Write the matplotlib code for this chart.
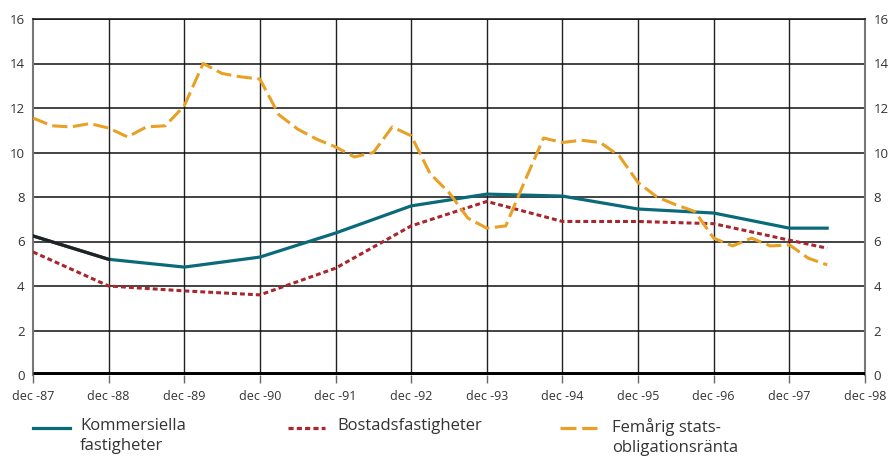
import matplotlib
matplotlib.use('Agg')
import matplotlib.pyplot as plt
import numpy as np
from matplotlib.lines import Line2D

plt.rcParams['font.family'] = ['Open Sans', 'DejaVu Sans']

# x positions in years after dec -87
years = [0, 1, 2, 3, 4, 5, 6, 7, 8, 9, 10, 10.5]
kommersiella = [6.25, 5.2, 4.85, 5.3, 6.38, 7.6, 8.13, 8.04, 7.46, 7.28, 6.6, 6.6]
bostad = [5.53, 4.0, 3.78, 3.6, 4.8, 6.7, 7.8, 6.9, 6.9, 6.8, 6.06, 5.7]

# quarterly five-year government bond rate
ranta = [11.55, 11.2, 11.15, 11.3, 11.1, 10.7, 11.15, 11.2, 12.1, 14.0, 13.55,
         13.4, 13.3, 11.7, 11.05, 10.6, 10.25, 9.8, 10.0, 11.15, 10.75, 9.05,
         8.2, 7.05, 6.6, 6.7, 8.7, 10.65, 10.45, 10.55, 10.45, 9.85, 8.65, 8.0,
         7.65, 7.35, 6.15, 5.8, 6.15, 5.8, 5.85, 5.25, 4.95]
kvartal = np.arange(len(ranta)) / 4

xlabels = ['dec -87', 'dec -88', 'dec -89', 'dec -90', 'dec -91', 'dec -92',
           'dec -93', 'dec -94', 'dec -95', 'dec -96', 'dec -97', 'dec -98']
yticks = [0, 2, 4, 6, 8, 10, 12, 14, 16]

TEAL = '#0b6a7a'
RED = '#a8262e'
ORANGE = '#e8a025'
TXT = '#333333'

fig = plt.figure(figsize=(8.89, 4.59), dpi=100)
ax = fig.add_axes([33/889, 1 - 375/459, 832/889, 356/459])

ax.set_xlim(0, 11)
ax.set_ylim(0, 16)
ax.set_xticks(range(len(xlabels)))
ax.set_xticklabels(xlabels)
ax.set_yticks(yticks)

# grid
for x in range(1, 11):
    ax.axvline(x, color='#222222', lw=1.0, zorder=1)
for y in yticks[1:]:
    ax.axhline(y, color='#111111', lw=1.1, zorder=1)
ax.axhline(0, color='black', lw=5, zorder=4, solid_capstyle='butt')

ax.plot(years, kommersiella, color=TEAL, lw=2.3, zorder=3)
ax.plot(years[:2], kommersiella[:2], color='#222222', lw=2.3, zorder=3)
ax.plot(years, bostad, color=RED, lw=2.2, dashes=(1.6, 1.0), zorder=3)
ax.plot(kvartal, ranta, color=ORANGE, lw=2.2, dashes=(5, 1.8), zorder=3)

for s in ['left', 'right']:
    ax.spines[s].set_color('#777777')
    ax.spines[s].set_linewidth(1.5)
ax.spines['bottom'].set_visible(False)
ax.spines['top'].set_color('#111111')
ax.spines['top'].set_linewidth(1.1)

ax.tick_params(axis='x', direction='out', length=6, width=1.0, color='#666666',
               labelsize=9, labelcolor=TXT, pad=5)
ax.tick_params(axis='y', length=0, labelsize=9.5, labelcolor=TXT, pad=6,
               labelright=True, right=False)

# legend drawn below the axes
entries = [(TEAL, None, 'Kommersiella\nfastigheter', 33, 80),
           (RED, (1.6, 1.0), 'Bostadsfastigheter', 288, 337),
           (ORANGE, (5, 1.8), 'Femårig stats-\nobligationsränta', 560, 612)]
ly = 1 - 428/459
for col, dash, label, x0, tx in entries:
    ln = Line2D([x0/889, (x0 + 37)/889], [ly, ly], color=col, lw=2.3,
                transform=fig.transFigure)
    if dash:
        ln.set_dashes(dash)
    fig.add_artist(ln)
    fig.text(tx/889, 1 - 418/459, label, fontsize=12, color=TXT, va='top',
             ha='left', linespacing=1.35)

fig.savefig('out.png', dpi=100)
